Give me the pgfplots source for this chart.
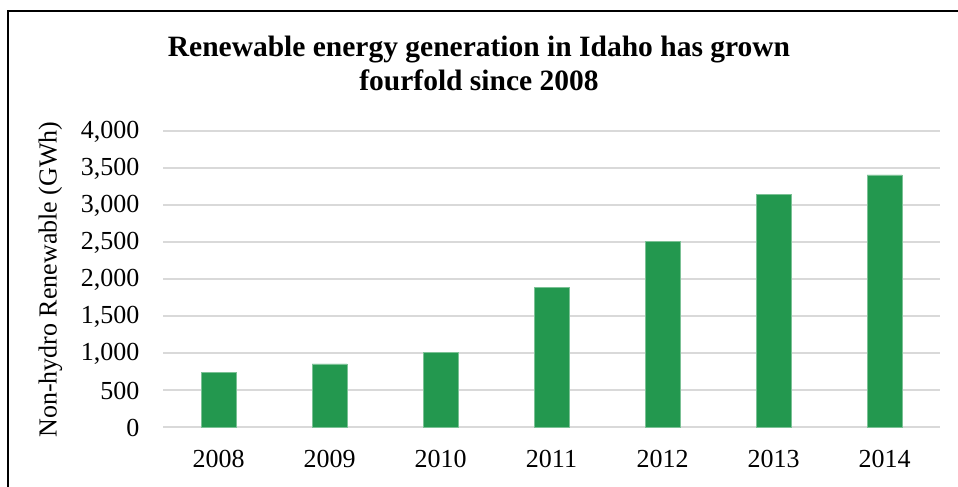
\documentclass[border=0pt]{standalone}
\usepackage{pgfplots}
\pgfplotsset{compat=1.18}
\usepackage{fontspec}
\setmainfont{Liberation Serif}
\definecolor{barg}{RGB}{35,152,79}
\definecolor{gridg}{RGB}{217,217,217}
\begin{document}
\begin{tikzpicture}[x=1pt,y=1pt]
\path[use as bounding box] (0,0) rectangle (958,487);
\draw[line width=2.5pt] (8,0) -- (8,476) -- (958,476);
\node[font=\fontsize{29.5}{34}\selectfont\bfseries, align=center] at (479,424) {Renewable energy generation in Idaho has grown\\fourfold since 2008};
\begin{axis}[
  at={(163pt,59.5pt)}, anchor=south west,
  scale only axis, width=777pt, height=296pt,
  xmin=-0.5, xmax=6.5, ymin=0, ymax=4000,
  ytick={0,500,...,4000},
  xtick=data,
  xticklabels={2008,2009,2010,2011,2012,2013,2014},
  axis line style={draw=none},
  tick style={draw=none},
  ymajorgrids,
  grid style={gridg, line width=2pt},
  ybar, bar width=35pt,
  ticklabel style={font=\fontsize{26}{30}\selectfont},
  /pgf/number format/assume math mode=true,
  /pgf/number format/1000 sep={,},
  yticklabel style={xshift=-20pt},
  xticklabel style={yshift=-15pt},
  ylabel={Non-hydro Renewable (GWh)},
  ylabel style={font=\fontsize{26}{30}\selectfont, at={(axis description cs:-0.145,0.5)}, anchor=center, rotate=0},
  clip=false,
]
\addplot[fill=barg, draw=barg!60!white, line width=0.5pt] coordinates {(0,745) (1,860) (2,1013) (3,1892) (4,2514) (5,3153) (6,3415)};
\end{axis}
\end{tikzpicture}
\end{document}
